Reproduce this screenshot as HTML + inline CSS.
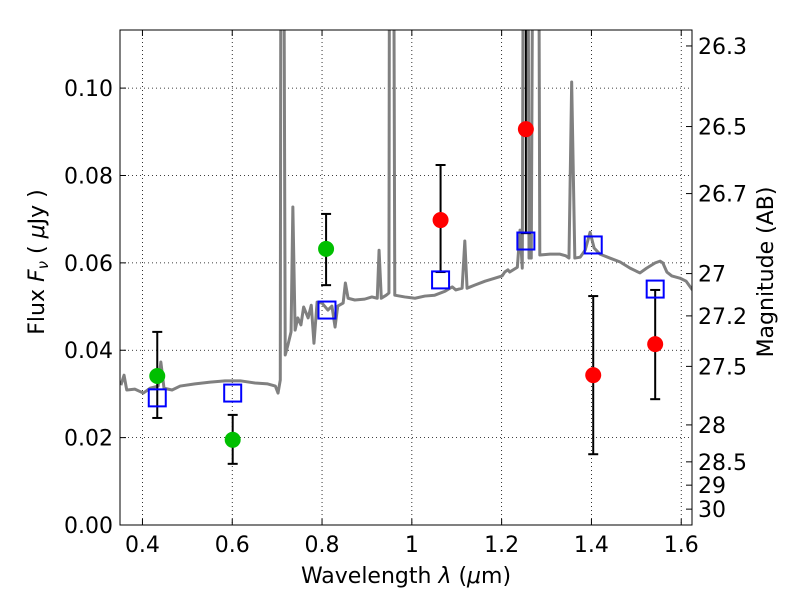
<!DOCTYPE html>
<html><head><meta charset="utf-8"><style>
body{margin:0;background:#fff}
svg text{font-family:"DejaVu Sans","Liberation Sans",sans-serif;fill:#000}
</style></head><body>
<svg id="c" width="800" height="600" xmlns="http://www.w3.org/2000/svg"></svg>
<script>
const specLam=[0.352,0.359,0.365,0.383,0.402,0.417,0.435,0.441,0.448,0.466,0.484,0.517,0.551,0.584,0.618,0.651,0.679,0.696,0.702,0.707,0.709,0.713,0.718,0.724,0.731,0.735,0.740,0.746,0.753,0.759,0.769,0.776,0.782,0.789,0.800,0.813,0.822,0.829,0.835,0.847,0.852,0.858,0.873,0.895,0.911,0.923,0.927,0.932,0.943,0.949,0.951,0.958,0.962,0.984,1.007,1.029,1.051,1.074,1.090,1.098,1.112,1.118,1.123,1.140,1.163,1.185,1.201,1.207,1.214,1.218,1.235,1.241,1.246,1.250,1.257,1.261,1.266,1.272,1.281,1.285,1.308,1.330,1.343,1.350,1.356,1.363,1.375,1.386,1.397,1.406,1.419,1.441,1.464,1.486,1.508,1.523,1.542,1.553,1.559,1.568,1.579,1.597,1.611,1.625];
const specFlux=[0.0320,0.0343,0.0309,0.0311,0.0302,0.0313,0.0318,0.0373,0.0313,0.0309,0.0318,0.0323,0.0327,0.0330,0.0330,0.0325,0.0323,0.0318,0.0302,0.0332,0.2,0.2,0.0389,0.0412,0.0442,0.0728,0.0446,0.0474,0.0458,0.0499,0.0474,0.0503,0.0416,0.0510,0.0508,0.0492,0.0501,0.0453,0.0501,0.0508,0.0554,0.0519,0.0515,0.0517,0.0522,0.0519,0.0629,0.0519,0.0526,0.0531,0.2,0.2,0.0526,0.0522,0.0519,0.0524,0.0526,0.0535,0.0545,0.0538,0.0542,0.0650,0.0542,0.0549,0.0558,0.0565,0.0570,0.0579,0.0584,0.0579,0.0590,0.0675,0.0588,0.2,0.2,0.0611,0.0611,0.2,0.2,0.0618,0.0620,0.0620,0.0616,0.0611,0.1014,0.0611,0.0613,0.0629,0.0670,0.0634,0.0620,0.0611,0.0602,0.0588,0.0577,0.0588,0.0600,0.0604,0.0600,0.0579,0.0570,0.0565,0.0558,0.0538];
const greenLam=[0.433,0.601,0.809];
const greenFlux=[0.0341,0.0195,0.0632];
const greenHi=[0.0442,0.0252,0.0712];
const greenLo=[0.0245,0.0140,0.0549];
const redLam=[1.064,1.254,1.404,1.542];
const redFlux=[0.0698,0.0906,0.0343,0.0414];
const redHi=[0.0824,0.1144,0.0524,0.0538];
const redLo=[0.0579,0.0668,0.0162,0.0288];
const modelLam=[0.433,0.601,0.811,1.064,1.254,1.404,1.542];
const modelFlux=[0.0291,0.0302,0.0492,0.0561,0.0650,0.0641,0.0540];
const xTicks=[0.4,0.6,0.8,1.0,1.2,1.4,1.6];
const xTickLabels=["0.4","0.6","0.8","1","1.2","1.4","1.6"];
const yTicks=[0,0.02,0.04,0.06,0.08,0.10];
const yTickLabels=["0.00","0.02","0.04","0.06","0.08","0.10"];
const magTicks=[26.3,26.5,26.7,27,27.2,27.5,28,28.5,29,30];
const magTickLabels=["26.3","26.5","26.7","27","27.2","27.5","28","28.5","29","30"];

const L=120,R=692,T=30,B=525,xmin=0.35,xmax=1.624,ymin=0,ymax=0.1133;
const X=v=>L+(v-xmin)/(xmax-xmin)*(R-L);
const Y=v=>B-(v-ymin)/(ymax-ymin)*(B-T);
const NS="http://www.w3.org/2000/svg",svg=document.getElementById('c');
function mk(tag,attrs,parent){const e=document.createElementNS(NS,tag);for(const k in attrs)e.setAttribute(k,attrs[k]);(parent||svg).appendChild(e);return e;}
const defs=mk('defs',{});const cp=mk('clipPath',{id:'clip'},defs);mk('rect',{x:L,y:T,width:R-L,height:B-T},cp);
xTicks.forEach(v=>{const g=mk('line',{x1:X(v),x2:X(v),y1:T,y2:B,stroke:'#000','stroke-width':0.8,'stroke-dasharray':'1,3'});

});
yTicks.forEach(v=>{const g=mk('line',{x1:L,x2:R,y1:Y(v),y2:Y(v),stroke:'#000','stroke-width':0.8,'stroke-dasharray':'1,3'});

});
const sp=mk('polyline',{points:specLam.map((l,i)=>X(l)+','+Y(specFlux[i])).join(' '),fill:'none',stroke:'#808080','stroke-width':3,'clip-path':'url(#clip)','stroke-linejoin':'round'});


function eb(lam,hi,lo){const g=mk('g',{'clip-path':'url(#clip)'});


const x=X(lam);mk('line',{x1:x,x2:x,y1:Y(hi),y2:Y(lo),stroke:'#000','stroke-width':2},g);
mk('line',{x1:x-5,x2:x+5,y1:Y(hi),y2:Y(hi),stroke:'#000','stroke-width':2},g);
mk('line',{x1:x-5,x2:x+5,y1:Y(lo),y2:Y(lo),stroke:'#000','stroke-width':2},g);}
greenLam.forEach((l,i)=>eb(l,greenHi[i],greenLo[i]));
redLam.forEach((l,i)=>eb(l,redHi[i],redLo[i]));
greenLam.forEach((l,i)=>{const c=mk('circle',{cx:X(l),cy:Y(greenFlux[i]),r:8,fill:'#00bf00'});

});
redLam.forEach((l,i)=>{const c=mk('circle',{cx:X(l),cy:Y(redFlux[i]),r:8,fill:'#ff0000'});

});
modelLam.forEach((l,i)=>{const s=mk('rect',{x:X(l)-8.5,y:Y(modelFlux[i])-8.5,width:17,height:17,fill:'none',stroke:'#0000ff','stroke-width':2});

});
mk('rect',{x:L,y:T,width:R-L,height:B-T,fill:'none',stroke:'#000','stroke-width':1});
xTicks.forEach((v,i)=>{mk('line',{x1:X(v),x2:X(v),y1:B,y2:B-6,stroke:'#000'});mk('line',{x1:X(v),x2:X(v),y1:T,y2:T+6,stroke:'#000'});
const t=mk('text',{x:X(v),y:B+27,'text-anchor':'middle','font-size':22});t.textContent=xTickLabels[i];

});
yTicks.forEach((v,i)=>{mk('line',{x1:L,x2:L+6,y1:Y(v),y2:Y(v),stroke:'#000'});
const t=mk('text',{x:L-7,y:Y(v)+8,'text-anchor':'end','font-size':22});t.textContent=yTickLabels[i];

});
magTicks.forEach((m,i)=>{const f=Math.pow(10,(23.9-m)/2.5);const y=Y(f);
mk('line',{x1:R,x2:R-6,y1:y,y2:y,stroke:'#000'});
const t=mk('text',{x:R+6,y:y+8,'font-size':22});t.textContent=magTickLabels[i];

});
</script>
<svg width="800" height="600" style="position:absolute;left:0;top:0" xmlns="http://www.w3.org/2000/svg">
<text x="406" y="583" text-anchor="middle" font-size="22" style="font-family:'DejaVu Sans',sans-serif">Wavelength  <tspan font-style="italic">λ</tspan> (<tspan font-style="italic">μ</tspan>m)</text>
<text transform="translate(44,262) rotate(-90)" text-anchor="middle" font-size="22" style="font-family:'DejaVu Sans',sans-serif">Flux  <tspan font-style="italic">F</tspan><tspan font-style="italic" font-size="15" dy="4">ν</tspan><tspan dy="-4">  (  </tspan><tspan font-style="italic">μ</tspan>Jy )</text>
<text transform="translate(773,272) rotate(-90)" text-anchor="middle" font-size="22" style="font-family:'DejaVu Sans',sans-serif">Magnitude (AB)</text>
</svg>
</body></html>
